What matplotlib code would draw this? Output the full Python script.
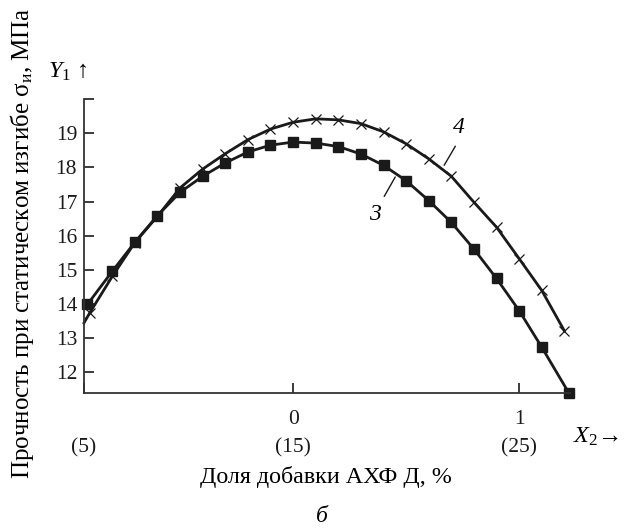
import matplotlib
matplotlib.use('Agg')
import matplotlib.pyplot as plt

plt.rcParams['font.family'] = ['Liberation Serif', 'DejaVu Serif']
plt.rcParams['mathtext.fontset'] = 'custom'
plt.rcParams['mathtext.rm'] = 'Liberation Serif'
plt.rcParams['mathtext.it'] = 'Liberation Serif:italic'

# кривая 3 (квадраты)
x3 = [-0.91, -0.8, -0.7, -0.6, -0.5, -0.4, -0.3, -0.2, -0.1, 0.0, 0.1,
      0.2, 0.3, 0.4, 0.5, 0.6, 0.7, 0.8, 0.9, 1.0, 1.1, 1.22]
y3 = [13.99, 14.96, 15.81, 16.59, 17.27, 17.74, 18.13, 18.45, 18.65, 18.74, 18.71,
      18.61, 18.39, 18.06, 17.61, 17.03, 16.39, 15.61, 14.75, 13.81, 12.74, 11.40]

# кривая 4 (крестики)
x4 = [-0.9, -0.8, -0.7, -0.6, -0.5, -0.4, -0.3, -0.2, -0.1, 0.0, 0.1,
      0.2, 0.3, 0.4, 0.5, 0.6, 0.7, 0.8, 0.9, 1.0, 1.1, 1.2]
y4 = [13.74, 14.81, 15.80, 16.57, 17.40, 17.95, 18.40, 18.81, 19.12, 19.32, 19.42,
      19.39, 19.28, 19.04, 18.69, 18.25, 17.74, 16.98, 16.25, 15.33, 14.40, 13.22]

# начало линий у оси
x_start = -0.925
y3_start = 13.90
y4_start = 13.45

y_ticks = [12, 13, 14, 15, 16, 17, 18, 19, 20]
y_labels = ['12', '13', '14', '15', '16', '17', '18', '19', '']
x_ticks = [-0.925, 0, 1]
x_labels = ['\n(5)', '0\n(15)', '1\n(25)']

W, H = 629, 529
fig = plt.figure(figsize=(W / 100, H / 100), dpi=100)
ax = fig.add_axes([84 / W, 1 - 393 / H, 486 / W, 294 / H])

fs = 15.5
ax.plot([x_start] + x4, [y4_start] + y4, color='#1a1a1a', lw=2.0,
        marker='x', ms=7, mew=0.9, markevery=slice(1, None), clip_on=False)
ax.plot([x_start] + x3, [y3_start] + y3, color='#1a1a1a', lw=2.0,
        marker='s', ms=6.5, markevery=slice(1, None), clip_on=False)

ax.set_xlim(-0.925, 1.225)
ax.set_ylim(11.4, 20.0)
ax.spines['top'].set_visible(False)
ax.spines['right'].set_visible(False)
for s in ('left', 'bottom'):
    ax.spines[s].set_linewidth(1.3)
    ax.spines[s].set_color('#333333')

ax.set_yticks(y_ticks)
ax.set_yticklabels(y_labels)
ax.set_xticks(x_ticks)
ax.set_xticklabels(x_labels, linespacing=1.65)
ax.tick_params(axis='both', direction='in', length=7, width=1.2,
               labelsize=fs, colors='#1a1a1a')
ax.tick_params(axis='y', pad=5)
ax.tick_params(axis='x', pad=12)

# подписи кривых
ax.annotate('', xy=(0.458, 17.79), xytext=(0.397, 17.08),
            arrowprops=dict(arrowstyle='-', lw=1.0, color='#1a1a1a'))
ax.text(0.361, 16.62, '3', fontsize=17, style='italic', ha='center', va='center')
ax.annotate('', xy=(0.662, 17.99), xytext=(0.724, 18.69),
            arrowprops=dict(arrowstyle='-', lw=1.0, color='#1a1a1a'))
ax.text(0.733, 19.16, '4', fontsize=17, style='italic', ha='center', va='center')

fig.text(68 / W, 1 - 72 / H, r'$Y_{1}$ ↑', fontsize=17.5, ha='center', va='center')
fig.text(596 / W, 1 - 437 / H, r'$X_{2}$→', fontsize=17.5, ha='center', va='center')
fig.text(22 / W, 1 - 243 / H, r'Прочность при статическом изгибе σ$_{\mathrm{и}}$, МПа',
         fontsize=18, rotation=90, ha='center', va='center')
fig.text(326 / W, 1 - 477 / H, 'Доля добавки АХФ Д, %', fontsize=17.3,
         ha='center', va='center')
fig.text(322 / W, 1 - 516 / H, 'б', fontsize=17, style='italic',
         ha='center', va='center')

fig.savefig('out.png', dpi=100)
